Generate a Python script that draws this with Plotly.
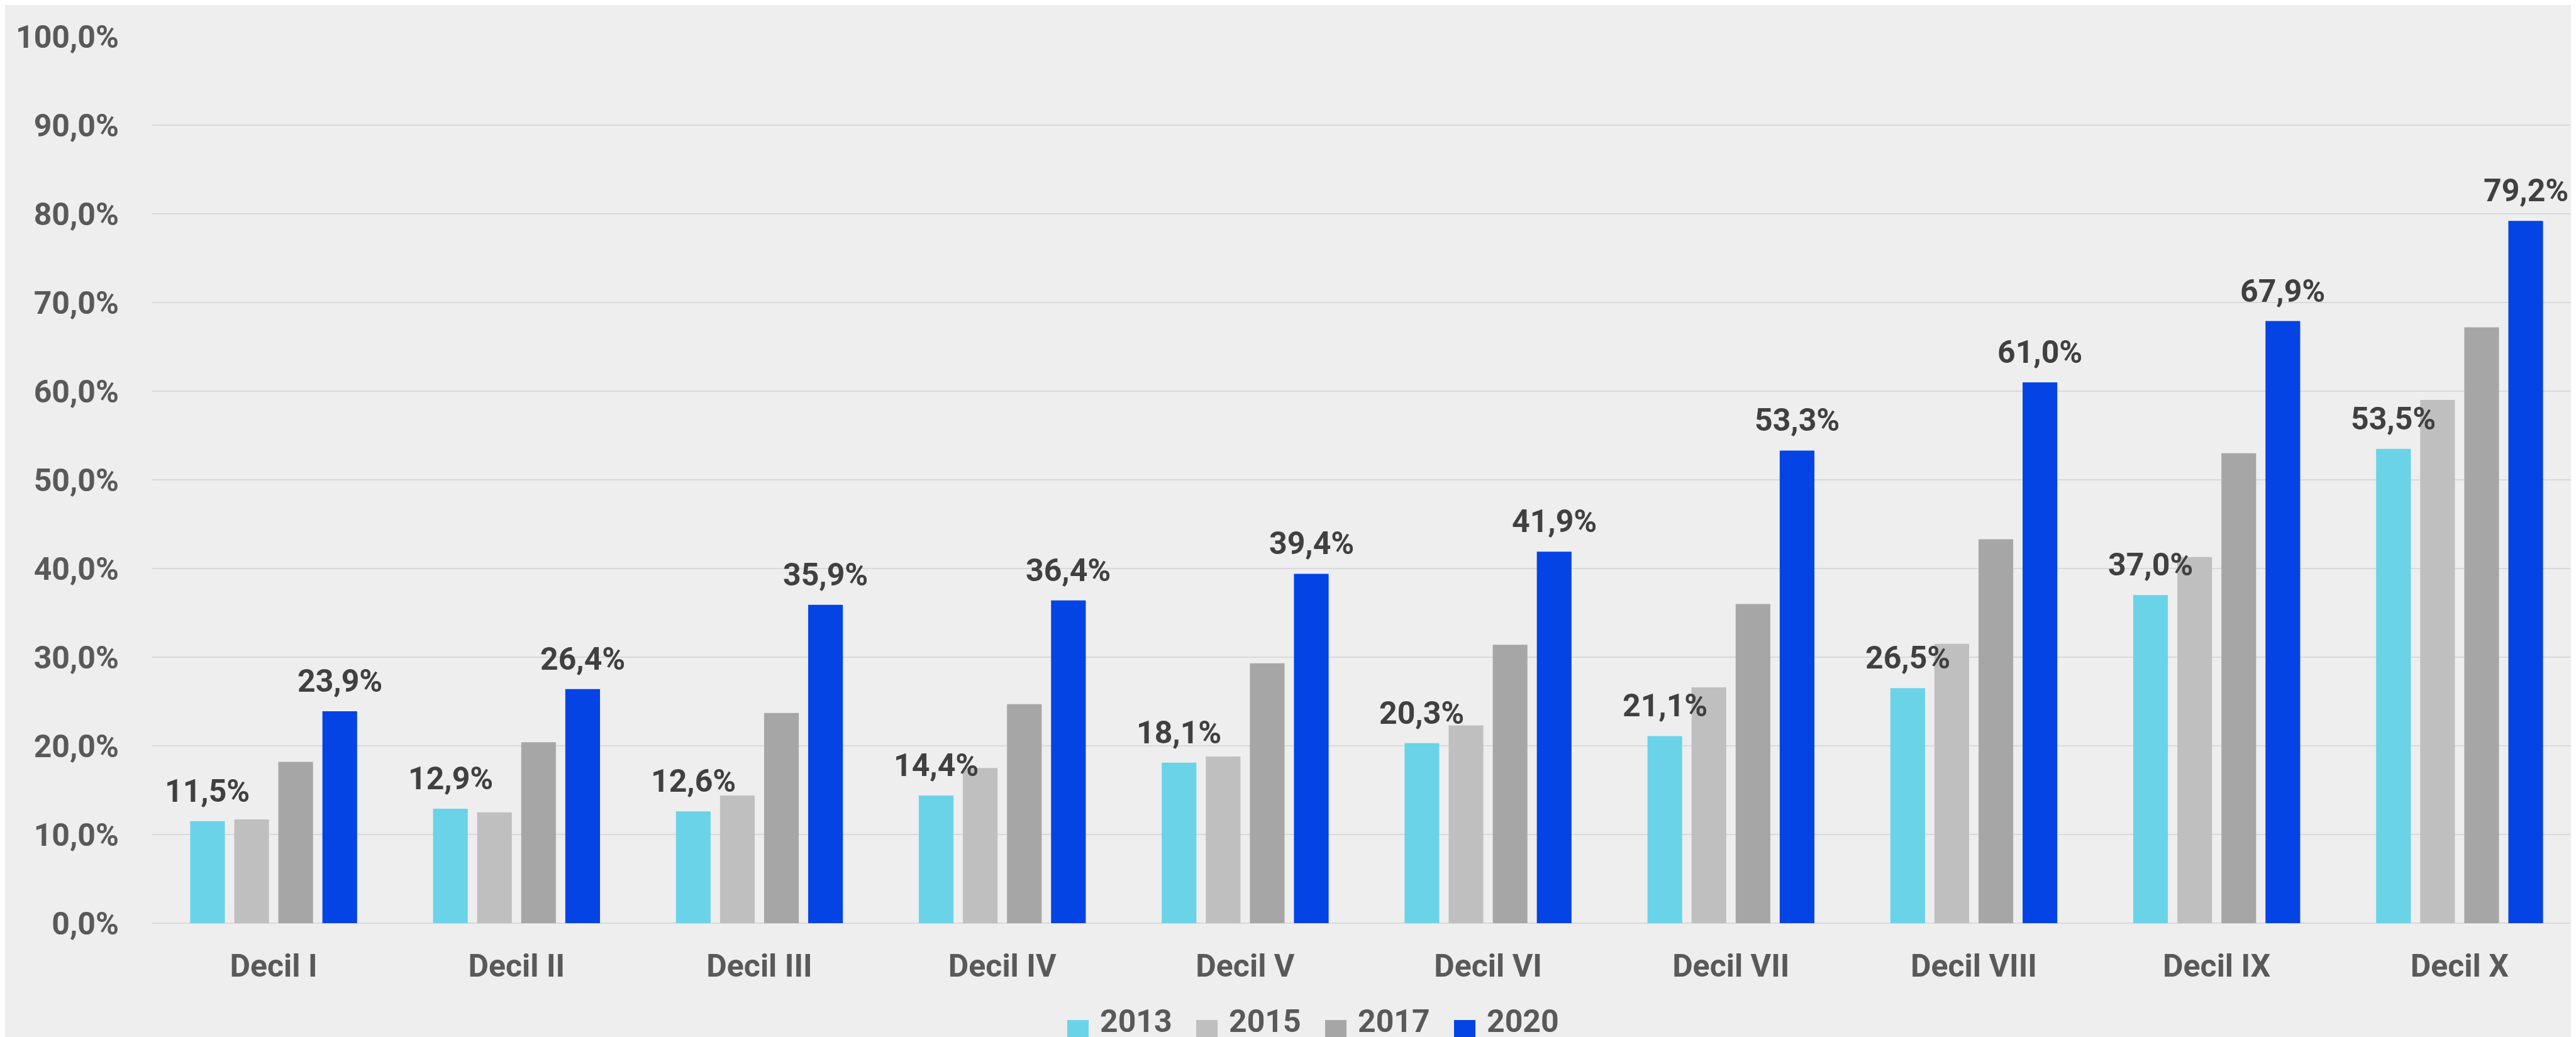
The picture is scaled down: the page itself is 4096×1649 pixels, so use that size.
import plotly.graph_objects as go

categories = ["Decil I", "Decil II", "Decil III", "Decil IV", "Decil V",
              "Decil VI", "Decil VII", "Decil VIII", "Decil IX", "Decil X"]
years = ["2013", "2015", "2017", "2020"]
v2013 = [11.5, 12.9, 12.6, 14.4, 18.1, 20.3, 21.1, 26.5, 37.0, 53.5]
v2015 = [11.7, 12.5, 14.4, 17.5, 18.8, 22.3, 26.6, 31.5, 41.3, 59.0]
v2017 = [18.2, 20.4, 23.7, 24.7, 29.3, 31.4, 36.0, 43.3, 53.0, 67.2]
v2020 = [23.9, 26.4, 35.9, 36.4, 39.4, 41.9, 53.3, 61.0, 67.9, 79.2]
series = [v2013, v2015, v2017, v2020]
colors = ["#6AD3E8", "#BFBFBF", "#A6A6A6", "#0443E4"]
labelled = [True, False, False, True]
yticks = list(range(0, 101, 10))

W, H = 4096, 1649
ML, MR, MT, MB = 234, 0, 50, 189
FONT = "Roboto, sans-serif"
FS = 50
BARGAP = 0.274
GROUPGAP = 0.213

fig = go.Figure()
for name, vals, col in zip(years, series, colors):
    fig.add_trace(go.Bar(x=categories, y=vals, name=name, marker_color=col,
                         marker_line_width=0, showlegend=False))

def fmt(v):
    return f"{v:.1f}".replace(".", ",") + "%"

# data labels above 2013 and 2020 bars
n = len(years)
slot = (1 - BARGAP) / n
annotations = []
for k, (vals, show) in enumerate(zip(series, labelled)):
    if not show:
        continue
    off = -(1 - BARGAP) / 2 + slot * (k + 0.5)
    for i, v in enumerate(vals):
        annotations.append(dict(x=i + off, y=v, xref="x", yref="y", text=fmt(v),
                                showarrow=False, yanchor="bottom", xanchor="center",
                                yshift=17,
                                font=dict(family=FONT, size=FS, color="#404040", weight="bold")))

# legend (drawn below the plot)
ph = H - MT - MB
pw = W - ML - MR
def px_to_paper_x(px):
    return (px - ML) / pw
def px_to_paper_y(py):
    return (H - MB - py) / ph

shapes = []
leg_x0 = 1689
leg_pitch = 205
sq = 34
for k, (name, col) in enumerate(zip(years, colors)):
    x0 = leg_x0 + k * leg_pitch
    shapes.append(dict(type="rect", xref="paper", yref="paper",
                       x0=px_to_paper_x(x0), x1=px_to_paper_x(x0 + sq),
                       y0=px_to_paper_y(1614), y1=px_to_paper_y(1649),
                       fillcolor=col, line_width=0))
    annotations.append(dict(x=px_to_paper_x(x0 + sq + 16), y=px_to_paper_y(1616),
                            xref="paper", yref="paper", text=name, showarrow=False,
                            xanchor="left", yanchor="middle",
                            font=dict(family=FONT, size=FS, color="#595959", weight="bold")))

fig.update_layout(
    width=W, height=H,
    margin=dict(l=ML, r=MR, t=MT, b=MB, pad=0),
    paper_bgcolor="#EEEEEE", plot_bgcolor="#EEEEEE",
    barmode="group", bargap=BARGAP, bargroupgap=GROUPGAP,
    showlegend=False,
    annotations=annotations, shapes=shapes,
    font=dict(family=FONT, size=FS, color="#595959"),
)
fig.update_xaxes(showgrid=False, showline=False, zeroline=False, ticks="",
                 tickfont=dict(family=FONT, size=FS, color="#595959", weight="bold"),
                 ticklabelstandoff=34)
fig.update_yaxes(range=[0, 100], tickvals=yticks,
                 ticktext=[fmt(t) for t in yticks],
                 showgrid=True, gridcolor="#D9D9D9", gridwidth=2,
                 zeroline=True, zerolinecolor="#D9D9D9", zerolinewidth=2,
                 showline=False, ticks="",
                 tickfont=dict(family=FONT, size=FS, color="#595959", weight="bold"),
                 ticklabelstandoff=52)

fig.write_html("out.html")
